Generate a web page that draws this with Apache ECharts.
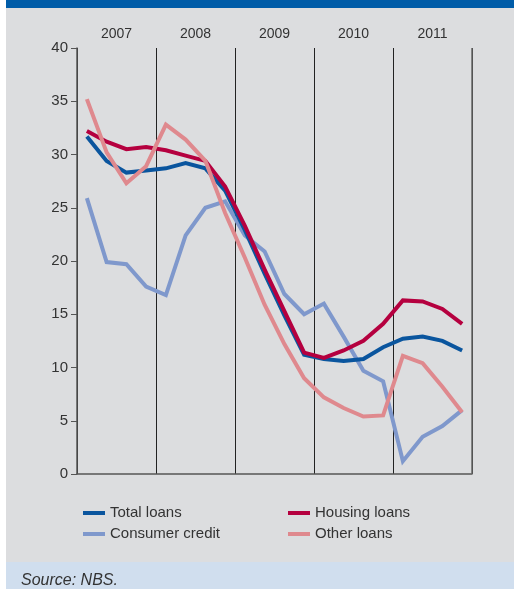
<!DOCTYPE html>
<html>
<head>
<meta charset="utf-8">
<script src="https://cdn.jsdelivr.net/npm/echarts@6/dist/echarts.min.js"></script>
<style>
  html, body { margin: 0; padding: 0; background: #fff; }
  #chart { width: 514px; height: 589px; }
</style>
</head>
<body>
<div id="chart"></div>
<script>
// quarters 2007Q1 .. 2011Q4
var quarters = [
  "2007Q1", "2007Q2", "2007Q3", "2007Q4",
  "2008Q1", "2008Q2", "2008Q3", "2008Q4",
  "2009Q1", "2009Q2", "2009Q3", "2009Q4",
  "2010Q1", "2010Q2", "2010Q3", "2010Q4",
  "2011Q1", "2011Q2", "2011Q3", "2011Q4"
];
var years = ["2007", "2008", "2009", "2010", "2011"];

// % year-on-year growth
var totalLoans = [31.7, 29.4, 28.3, 28.5, 28.7, 29.2, 28.7, 26.6, 22.9, 18.8, 14.9, 11.2, 10.8, 10.6, 10.8, 11.9, 12.7, 12.9, 12.5, 11.6];
var housingLoans = [32.2, 31.2, 30.5, 30.7, 30.4, 29.9, 29.4, 27.0, 23.3, 19.2, 15.3, 11.4, 10.9, 11.6, 12.5, 14.1, 16.3, 16.2, 15.5, 14.1];
var consumerCredit = [25.9, 19.9, 19.7, 17.6, 16.8, 22.4, 25.0, 25.6, 22.4, 20.9, 16.9, 15.0, 16.0, 12.9, 9.7, 8.7, 1.2, 3.5, 4.5, 6.0];
var otherLoans = [35.2, 30.2, 27.3, 28.9, 32.8, 31.4, 29.4, 24.5, 20.3, 15.9, 12.2, 9.0, 7.2, 6.2, 5.4, 5.5, 11.1, 10.4, 8.2, 5.8];

var FONT = "Liberation Sans";
var chart = echarts.init(document.getElementById("chart"));

function line(name, data, color) {
  return {
    name: name,
    type: "line",
    xAxisIndex: 0,
    data: data,
    symbol: "none",
    lineStyle: { width: 4, color: color, join: "miter" },
    itemStyle: { color: color }
  };
}

var legendCommon = {
  orient: "vertical",
  icon: "rect",
  itemWidth: 22,
  itemHeight: 4,
  itemGap: 5,
  top: 500,
  textStyle: { fontFamily: FONT, fontSize: 15, color: "#333", lineHeight: 16 }
};

var option = {
  animation: false,
  textStyle: { fontFamily: FONT },
  graphic: [
    { type: "rect", z: -10, shape: { x: 6, y: 0, width: 508, height: 8 }, style: { fill: "#005ca8" } },
    { type: "rect", z: -10, shape: { x: 6, y: 8, width: 508, height: 554 }, style: { fill: "#dcdddf" } },
    { type: "rect", z: -10, shape: { x: 6, y: 562, width: 508, height: 27 }, style: { fill: "#d0deee" } },
    {
      type: "text", left: 21, top: 573, z: 10,
      style: { text: "Source: NBS.", fontFamily: FONT, fontStyle: "italic", fontSize: 16, fill: "#333" }
    },
    // right edge of the plot frame
    {
      type: "line", z: 5,
      shape: { x1: 472, y1: 48, x2: 472, y2: 474 },
      style: { stroke: "#666", lineWidth: 1.5 }
    }
  ],
  grid: { left: 77, right: 42, top: 48, bottom: 115 },
  legend: [
    Object.assign({ left: 78, data: ["Total loans", "Consumer credit"] }, legendCommon),
    Object.assign({ left: 283, data: ["Housing loans", "Other loans"] }, legendCommon)
  ],
  xAxis: [
    {
      type: "category",
      data: quarters,
      boundaryGap: true,
      axisLine: { lineStyle: { color: "#555", width: 1.5 } },
      axisTick: { show: false },
      axisLabel: { show: false },
      splitLine: { show: false }
    },
    {
      type: "category",
      data: years,
      position: "top",
      boundaryGap: true,
      axisLine: { show: false },
      axisTick: { show: false },
      axisLabel: { margin: 7, fontFamily: FONT, fontSize: 14, color: "#333" },
      splitLine: { show: true, lineStyle: { color: "#222", width: 1 } }
    }
  ],
  yAxis: {
    type: "value",
    min: 0,
    max: 40,
    interval: 5,
    axisLine: { show: true, lineStyle: { color: "#555", width: 1.5 } },
    axisTick: { show: true, length: 6, lineStyle: { color: "#555" } },
    axisLabel: { margin: 9, fontFamily: FONT, fontSize: 15, color: "#333" },
    splitLine: { show: false }
  },
  series: [
    line("Consumer credit", consumerCredit, "#7f98cc"),
    line("Total loans", totalLoans, "#0a559e"),
    line("Housing loans", housingLoans, "#b5003f"),
    line("Other loans", otherLoans, "#df898e")
  ]
};

chart.setOption(option);
</script>
</body>
</html>
